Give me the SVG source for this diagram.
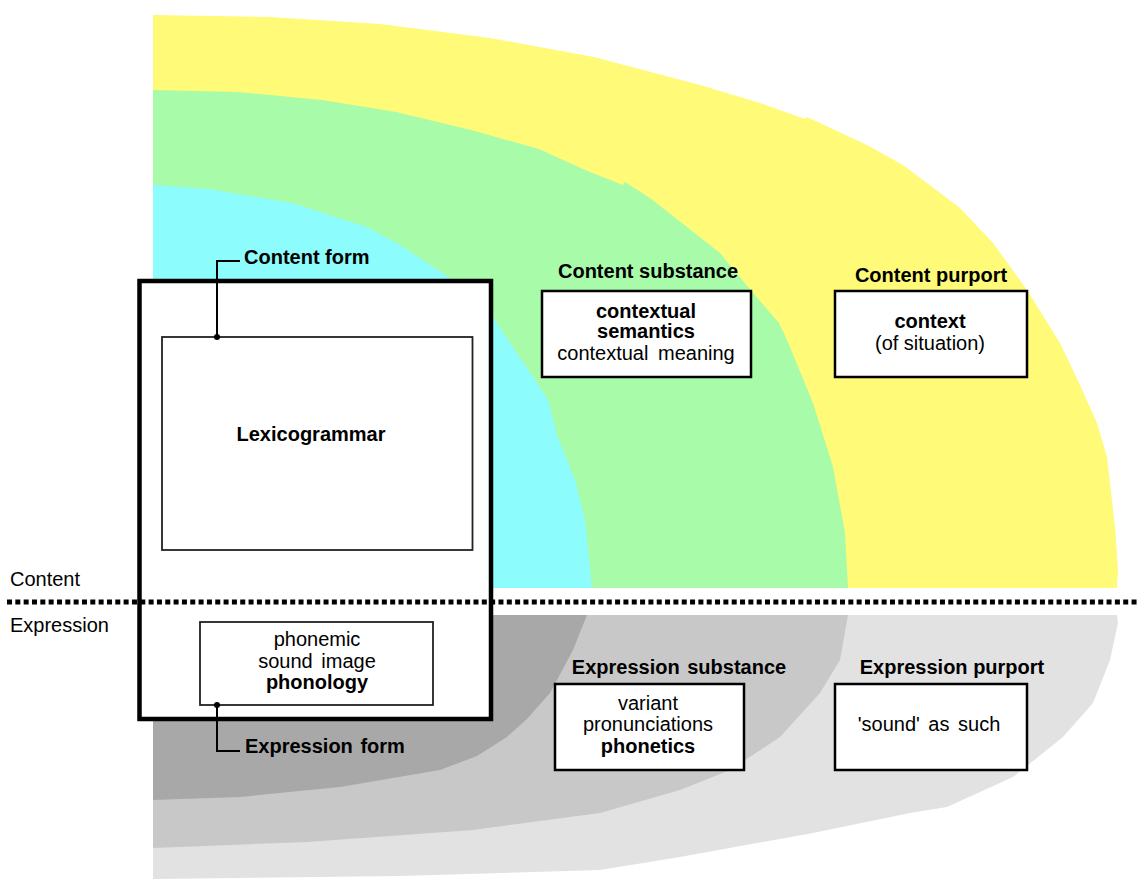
<svg xmlns="http://www.w3.org/2000/svg" width="1139" height="879" viewBox="0 0 1139 879">
<style>
text{font-family:"Liberation Sans",Arial,sans-serif;font-size:20px;fill:#000}
.b{font-weight:bold}
.c{text-anchor:middle}
.box{fill:#fff;stroke:#000;stroke-width:2.5}
.thin{fill:#fff;stroke:#222;stroke-width:1.8}
.conn{fill:none;stroke:#000;stroke-width:2}
</style>
<g id="bands">
<path id="purport-content" fill="#FFFA78" d="M153,15 L270,17 L380,24 L490,38 L594,57 L700,85 L760,103 L805,119 L807,117 L867,145 L903,165 L960,208 L993,243 L1027,290 L1060,343 L1080,385 L1097,423 L1107,457 L1115,527 L1118,570 L1117,588 L153,588 Z"/>
<path id="substance-content" fill="#A8FBA8" d="M153,90 L237,92 L322,100 L396,112 L471,130 L539,149 L585,170 L623,185 L625,182 L650,198 L720,253 L753,293 L779,323 L787,340 L813,403 L833,467 L845,533 L848,588 L153,588 Z"/>
<path id="form-content" fill="#8CFCFC" d="M153,185 L208,189 L292,203 L367,227 L400,245 L450,278 L493,317 L510,343 L533,377 L548,400 L557,435 L575,480 L585,520 L592,588 L153,588 Z"/>
<path id="purport-expr" fill="#E2E2E2" d="M153,615 L1117,615 L1118,623 L1110,660 L1093,703 L1063,737 L1013,777 L947,807 L910,813 L813,833 L680,857 L600,870 L400,876 L153,879 Z"/>
<path id="substance-expr" fill="#C8C8C8" d="M153,615 L848,615 L840,660 L820,693 L780,737 L730,770 L680,790 L600,813 L473,830 L307,842 L153,848 Z"/>
<path id="form-expr" fill="#A8A8A8" d="M153,615 L587,615 L573,650 L550,693 L527,719 L507,737 L477,756 L440,770 L340,787 L240,797 L153,800 Z"/>
</g>
<g id="form-frame">
<rect x="139.5" y="281" width="351.5" height="438" fill="#fff" stroke="#000" stroke-width="4.5"/>
</g>
<g id="lexicogrammar">
<rect class="thin" x="162" y="337" width="310.5" height="213"/>
<text class="b c" x="311" y="441">Lexicogrammar</text>
</g>
<g id="phonology">
<rect class="thin" x="200" y="622" width="233" height="83"/>
<text class="c" x="317" y="646">phonemic</text>
<text class="c" x="317" y="668" word-spacing="3">sound image</text>
<text class="b c" x="317" y="689">phonology</text>
</g>
<g id="content-substance">
<text class="b c" x="648" y="278">Content substance</text>
<rect class="box" x="542" y="291" width="209" height="86"/>
<text class="b c" x="646" y="318">contextual</text>
<text class="b c" x="646" y="338">semantics</text>
<text class="c" x="646" y="360" word-spacing="4">contextual meaning</text>
</g>
<g id="content-purport">
<text class="b c" x="931" y="282">Content purport</text>
<rect class="box" x="835" y="291" width="192" height="86"/>
<text class="b c" x="930" y="328">context</text>
<text class="c" x="930" y="350">(of situation)</text>
</g>
<g id="expression-substance">
<text class="b c" x="679" y="674" word-spacing="2">Expression substance</text>
<rect class="box" x="555" y="684" width="189" height="86"/>
<text class="c" x="648" y="710">variant</text>
<text class="c" x="648" y="731">pronunciations</text>
<text class="b c" x="648" y="753">phonetics</text>
</g>
<g id="expression-purport">
<text class="b c" x="952" y="674">Expression purport</text>
<rect class="box" x="835" y="684" width="192" height="86"/>
<text class="c" x="929" y="731" word-spacing="3">'sound' as such</text>
</g>
<g id="divider">
<line x1="7" y1="602" x2="1139" y2="602" stroke="#000" stroke-width="5" stroke-dasharray="5 3.33"/>
<text x="10" y="586">Content</text>
<text x="10" y="632">Expression</text>
</g>
<g id="connectors">
<path class="conn" d="M217,337 V261 H240"/>
<circle cx="217" cy="337" r="3"/>
<path class="conn" d="M217,705 V751 H240"/>
<circle cx="217" cy="705" r="3"/>
</g>
<g id="labels">
<text class="b" x="244" y="264">Content form</text>
<text class="b" x="245" y="753" word-spacing="2">Expression form</text>
</g>
</svg>
